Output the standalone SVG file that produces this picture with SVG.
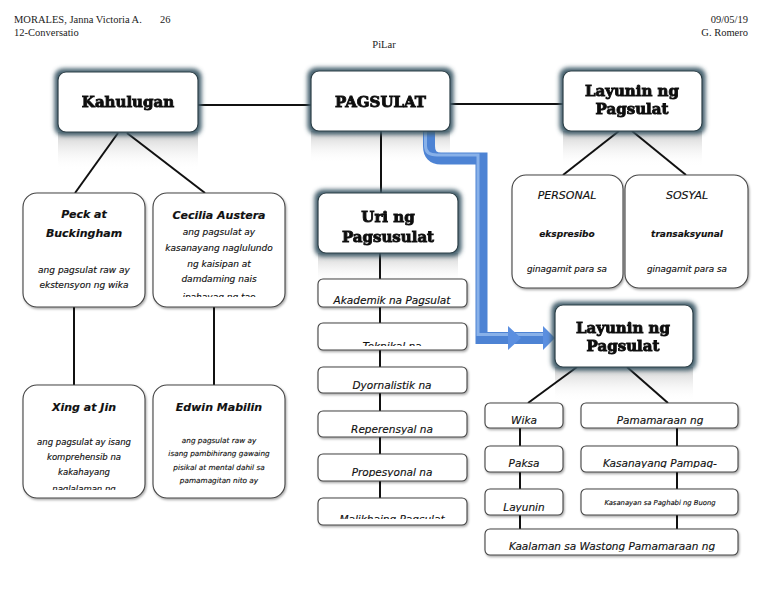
<svg xmlns="http://www.w3.org/2000/svg" width="768" height="594" viewBox="0 0 768 594">
<style>
.hdr{font-family:"Liberation Serif",serif;font-size:10.5px;fill:#222}
.title{font-family:"DejaVu Serif",serif;font-weight:bold;font-size:15px;fill:#111;stroke:#111;stroke-width:0.9;text-anchor:middle}
.hw{font-family:"DejaVu Sans",sans-serif;font-style:italic;fill:#111;stroke:#111;stroke-width:0.15;text-anchor:middle}
.main{fill:#fff;stroke:#2c3e46;stroke-width:1.2}
.sub{fill:#fff;stroke:#444;stroke-width:1.1}
.ln{stroke:#111;stroke-width:2;fill:none}
.refl{fill:url(#reflg)}
</style>
<defs>
<filter id="glow" x="-20%" y="-30%" width="140%" height="160%">
<feMorphology in="SourceAlpha" operator="dilate" radius="3" result="d"/>
<feGaussianBlur in="d" stdDeviation="2.2" result="b"/>
<feFlood flood-color="#3b5866" flood-opacity="0.95"/>
<feComposite in2="b" operator="in"/>
<feMerge><feMergeNode/><feMergeNode in="SourceGraphic"/></feMerge>
</filter>
<filter id="sh" x="-10%" y="-10%" width="125%" height="130%">
<feDropShadow dx="1" dy="1.5" stdDeviation="1.2" flood-color="#000" flood-opacity="0.35"/>
</filter>
<linearGradient id="reflg" x1="0" y1="0" x2="0" y2="1">
<stop offset="0" stop-color="#b0b0b0" stop-opacity="0.65"/>
<stop offset="1" stop-color="#ffffff" stop-opacity="0"/>
</linearGradient>
<linearGradient id="blueg" x1="0" y1="0" x2="1" y2="0">
<stop offset="0" stop-color="#8fb6ee"/>
<stop offset="1" stop-color="#3f76cc"/>
</linearGradient>
<clipPath id="cCec"><rect x="153" y="193" width="132" height="104"/></clipPath>
<clipPath id="cXing"><rect x="23" y="385" width="122" height="105"/></clipPath>
<clipPath id="c1"><rect x="318" y="279" width="149" height="27"/></clipPath>
<clipPath id="c2"><rect x="318" y="323" width="149" height="23"/></clipPath>
<clipPath id="c3"><rect x="318" y="367" width="149" height="24"/></clipPath>
<clipPath id="c4"><rect x="318" y="411" width="149" height="23.5"/></clipPath>
<clipPath id="c5"><rect x="318" y="454" width="149" height="23"/></clipPath>
<clipPath id="c6"><rect x="318" y="498" width="149" height="21"/></clipPath>
<clipPath id="cPam"><rect x="581" y="403" width="157" height="22.5"/></clipPath>
<clipPath id="cKas"><rect x="581" y="446" width="157" height="22"/></clipPath>
<clipPath id="cLay"><rect x="485" y="489" width="78" height="23"/></clipPath>
<clipPath id="cKaa"><rect x="485" y="529" width="253" height="22.5"/></clipPath>
</defs>
<rect width="768" height="594" fill="#fff"/>

<g id="header">
<text class="hdr" x="14" y="23">MORALES, Janna Victoria A.</text>
<text class="hdr" x="160" y="23">26</text>
<text class="hdr" x="14" y="36">12-Conversatio</text>
<text class="hdr" x="748" y="23" text-anchor="end">09/05/19</text>
<text class="hdr" x="748" y="36" text-anchor="end">G. Romero</text>
<text class="hdr" x="384" y="48" text-anchor="middle">PiLar</text>
</g>

<g id="reflections">
<rect class="refl" x="58" y="132" width="140" height="38"/>
<rect class="refl" x="311" y="131" width="139" height="32"/>
<rect class="refl" x="563" y="131" width="139" height="36"/>
<rect class="refl" x="318" y="253" width="140" height="30"/>
<rect class="refl" x="555" y="367" width="138" height="34"/>
</g>

<g id="connectors">
<line class="ln" x1="198" y1="105" x2="311" y2="105"/>
<line class="ln" x1="450" y1="104" x2="563" y2="104"/>
<line class="ln" x1="118" y1="133" x2="75" y2="193"/>
<line class="ln" x1="127" y1="133" x2="205" y2="193"/>
<line class="ln" x1="74" y1="307" x2="74" y2="385"/>
<line class="ln" x1="214" y1="307" x2="214" y2="385"/>
<line class="ln" x1="381" y1="131" x2="381" y2="193"/>
<line class="ln" x1="380" y1="253" x2="380" y2="498"/>
<line class="ln" x1="619" y1="131" x2="563" y2="175"/>
<line class="ln" x1="632" y1="131" x2="686" y2="175"/>
<line class="ln" x1="577" y1="367" x2="528" y2="403"/>
<line class="ln" x1="627" y1="367" x2="668" y2="403"/>
<line class="ln" x1="520" y1="428" x2="520" y2="529"/>
<line class="ln" x1="677" y1="428" x2="677" y2="529"/>
<g id="bluearrow">
<path d="M429 131 L429 146 Q429 158.5 441 158.5 L481.5 158.5 L481.5 338 L545 338" fill="none" stroke="#4d83d4" stroke-width="12"/>
<path d="M425.5 131 L425.5 146 Q425.5 155 437 155 L478 155 L478 334.5 L545 334.5" fill="none" stroke="#9cc0f0" stroke-width="3" opacity="0.75"/>
<polygon points="508,326 521,338 508,350" fill="#5b8fe0"/>
<polygon points="543,326 555,338 543,350" fill="#5b8fe0"/>
</g>
</g>

<g id="kahulugan" filter="url(#glow)">
<rect class="main" x="58" y="72" width="140" height="60" rx="8"/>
<text class="title" x="128" y="107">Kahulugan</text>
</g>
<g id="pagsulat" filter="url(#glow)">
<rect class="main" x="311" y="71" width="139" height="60" rx="8"/>
<text class="title" x="380.5" y="107">PAGSULAT</text>
</g>
<g id="layunin1" filter="url(#glow)">
<rect class="main" x="563" y="71" width="139" height="60" rx="8"/>
<text class="title" x="632" y="96">Layunin ng</text>
<text class="title" x="632" y="114">Pagsulat</text>
</g>
<g id="uri" filter="url(#glow)">
<rect class="main" x="318" y="193" width="140" height="60" rx="8"/>
<text class="title" x="388" y="222">Uri ng</text>
<text class="title" x="388" y="242">Pagsusulat</text>
</g>
<g id="layunin2" filter="url(#glow)">
<rect class="main" x="555" y="305" width="138" height="62" rx="8"/>
<text class="title" x="623" y="333">Layunin ng</text>
<text class="title" x="623" y="351">Pagsulat</text>
</g>

<g id="peck">
<rect class="sub" x="23" y="193" width="122" height="114" rx="14" filter="url(#sh)"/>
<text class="hw" x="84" y="218" font-size="11" font-weight="bold">Peck at</text>
<text class="hw" x="84" y="237" font-size="11" font-weight="bold">Buckingham</text>
<text class="hw" x="84" y="273" font-size="9">ang pagsulat raw ay</text>
<text class="hw" x="84" y="288" font-size="9">ekstensyon ng wika</text>
</g>
<g id="cecilia">
<rect class="sub" x="153" y="193" width="132" height="114" rx="14" filter="url(#sh)"/>
<text class="hw" x="219" y="219" font-size="11" font-weight="bold">Cecilia Austera</text>
<g clip-path="url(#cCec)">
<text class="hw" x="219" y="235" font-size="9">ang pagsulat ay</text>
<text class="hw" x="219" y="251" font-size="9">kasanayang naglulundo</text>
<text class="hw" x="219" y="267" font-size="9">ng kaisipan at</text>
<text class="hw" x="219" y="282" font-size="9">damdaming nais</text>
<text class="hw" x="219" y="300" font-size="9">ipahayag ng tao</text>
</g>
</g>
<g id="xing">
<rect class="sub" x="23" y="385" width="122" height="113" rx="14" filter="url(#sh)"/>
<text class="hw" x="84" y="411" font-size="11" font-weight="bold">Xing at Jin</text>
<g clip-path="url(#cXing)">
<text class="hw" x="84" y="445" font-size="8.5">ang pagsulat ay isang</text>
<text class="hw" x="84" y="460" font-size="8.5">komprehensib na</text>
<text class="hw" x="84" y="475" font-size="8.5">kakahayang</text>
<text class="hw" x="84" y="492" font-size="8.5">naglalaman ng</text>
</g>
</g>
<g id="edwin">
<rect class="sub" x="153" y="385" width="132" height="113" rx="14" filter="url(#sh)"/>
<text class="hw" x="219" y="411" font-size="11" font-weight="bold">Edwin Mabilin</text>
<text class="hw" x="219" y="443" font-size="7.3">ang pagsulat raw ay</text>
<text class="hw" x="219" y="456" font-size="7.3">isang pambihirang gawaing</text>
<text class="hw" x="219" y="470" font-size="7.3">pisikal at mental dahil sa</text>
<text class="hw" x="219" y="483" font-size="7.3">pamamagitan nito ay</text>
</g>

<g id="personal">
<rect class="sub" x="512" y="175" width="111" height="113" rx="14" filter="url(#sh)"/>
<text class="hw" x="567" y="199" font-size="11">PERSONAL</text>
<text class="hw" x="567" y="237" font-size="9" font-weight="bold">ekspresibo</text>
<text class="hw" x="567" y="272" font-size="8.8">ginagamit para sa</text>
</g>
<g id="sosyal">
<rect class="sub" x="625" y="175" width="123" height="113" rx="14" filter="url(#sh)"/>
<text class="hw" x="687" y="199" font-size="11">SOSYAL</text>
<text class="hw" x="687" y="237" font-size="9" font-weight="bold">transaksyunal</text>
<text class="hw" x="687" y="272" font-size="8.8">ginagamit para sa</text>
</g>

<g id="akademik">
<rect class="sub" x="318" y="279" width="149" height="28" rx="5" filter="url(#sh)"/>
<text class="hw" x="392" y="304" font-size="10.5" clip-path="url(#c1)">Akademik na Pagsulat</text>
</g>
<g id="teknikal">
<rect class="sub" x="318" y="323" width="149" height="27" rx="5" filter="url(#sh)"/>
<text class="hw" x="392" y="350" font-size="10.5" clip-path="url(#c2)">Teknikal na</text>
</g>
<g id="dyornalistik">
<rect class="sub" x="318" y="367" width="149" height="26" rx="5" filter="url(#sh)"/>
<text class="hw" x="392" y="389" font-size="10.5" clip-path="url(#c3)">Dyornalistik na</text>
</g>
<g id="reperensyal">
<rect class="sub" x="318" y="411" width="149" height="26" rx="5" filter="url(#sh)"/>
<text class="hw" x="392" y="433" font-size="10.5" clip-path="url(#c4)">Reperensyal na</text>
</g>
<g id="propesyonal">
<rect class="sub" x="318" y="454" width="149" height="27" rx="5" filter="url(#sh)"/>
<text class="hw" x="392" y="476" font-size="10.5" clip-path="url(#c5)">Propesyonal na</text>
</g>
<g id="malikhaing">
<rect class="sub" x="318" y="498" width="149" height="27" rx="5" filter="url(#sh)"/>
<text class="hw" x="392" y="523" font-size="10.5" clip-path="url(#c6)">Malikhaing Pagsulat</text>
</g>

<g id="wika">
<rect class="sub" x="485" y="403" width="78" height="25" rx="5" filter="url(#sh)"/>
<text class="hw" x="524" y="424" font-size="10.5">Wika</text>
</g>
<g id="paksa">
<rect class="sub" x="485" y="446" width="78" height="26" rx="5" filter="url(#sh)"/>
<text class="hw" x="524" y="467" font-size="10.5">Paksa</text>
</g>
<g id="layuninbox">
<rect class="sub" x="485" y="489" width="78" height="26" rx="5" filter="url(#sh)"/>
<text class="hw" x="524" y="511" font-size="10.5" clip-path="url(#cLay)">Layunin</text>
</g>
<g id="pamamaraan">
<rect class="sub" x="581" y="403" width="157" height="25" rx="5" filter="url(#sh)"/>
<text class="hw" x="660" y="424" font-size="10.5" clip-path="url(#cPam)">Pamamaraan ng</text>
</g>
<g id="kasanayang">
<rect class="sub" x="581" y="446" width="157" height="26" rx="5" filter="url(#sh)"/>
<text class="hw" x="660" y="467" font-size="10.5" clip-path="url(#cKas)">Kasanayang Pampag-</text>
</g>
<g id="kasanayan">
<rect class="sub" x="581" y="489" width="157" height="26" rx="5" filter="url(#sh)"/>
<text class="hw" x="660" y="505" font-size="6.8">Kasanayan sa Paghabi ng Buong</text>
</g>
<g id="kaalaman">
<rect class="sub" x="485" y="529" width="253" height="26" rx="5" filter="url(#sh)"/>
<text class="hw" x="612" y="550" font-size="10.5" clip-path="url(#cKaa)">Kaalaman sa Wastong Pamamaraan ng</text>
</g>
</svg>
